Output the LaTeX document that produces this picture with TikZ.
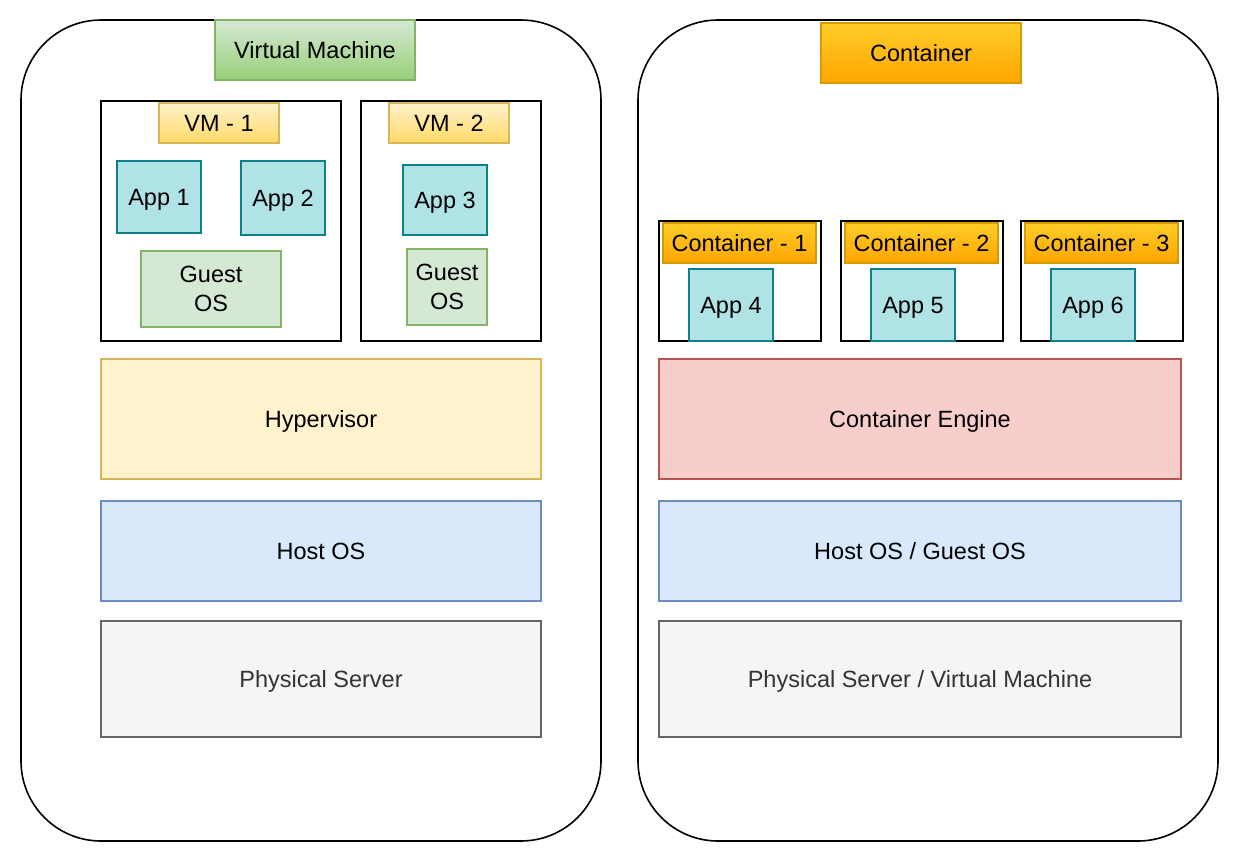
\documentclass[tikz,border=0pt]{standalone}
\usepackage{fontspec}
\setmainfont{Liberation Sans}
\begin{document}
\definecolor{greenFill}{HTML}{D5E8D4}
\definecolor{greenDark}{HTML}{97D077}
\definecolor{greenLine}{HTML}{82B366}
\definecolor{orangeTop}{HTML}{FFCD28}
\definecolor{orangeBot}{HTML}{FFA500}
\definecolor{orangeLine}{HTML}{D79B00}
\definecolor{yellowFill}{HTML}{FFF2CC}
\definecolor{yellowDark}{HTML}{FFD966}
\definecolor{yellowLine}{HTML}{D6B656}
\definecolor{tealFill}{HTML}{B0E3E6}
\definecolor{tealLine}{HTML}{0E8088}
\definecolor{blueFill}{HTML}{DAE8FC}
\definecolor{blueLine}{HTML}{6C8EBF}
\definecolor{redFill}{HTML}{F8CECC}
\definecolor{redLine}{HTML}{B85450}
\definecolor{greyFill}{HTML}{F5F5F5}
\definecolor{greyLine}{HTML}{666666}
\definecolor{greyText}{HTML}{333333}
\begin{tikzpicture}[x=1pt,y=-1pt,
  every node/.style={font=\fontsize{23.5}{29}\selectfont, inner sep=0pt, align=center, rectangle,
    text height=21.3pt, text depth=5pt},
  sz/.style 2 args={minimum width=#1pt, minimum height=#2pt},
  outer/.style={draw=black, line width=1.6pt, rounded corners=80pt, fill=white},
  frame/.style={draw=black, line width=1.6pt, fill=white},
  vmtitle/.style={draw=greenLine, line width=1.2pt, top color=greenFill, bottom color=greenDark},
  cttitle/.style={draw=orangeLine, line width=1.2pt, top color=orangeTop, bottom color=orangeBot},
  vmlabel/.style={draw=yellowLine, line width=1.2pt, top color=yellowFill, bottom color=yellowDark},
  app/.style={draw=tealLine, line width=1.2pt, fill=tealFill},
  guest/.style={draw=greenLine, line width=1.2pt, fill=greenFill, text height=, text depth=},
  hyper/.style={draw=yellowLine, line width=1.2pt, fill=yellowFill},
  engine/.style={draw=redLine, line width=1.2pt, fill=redFill},
  hostos/.style={draw=blueLine, line width=1.2pt, fill=blueFill},
  server/.style={draw=greyLine, line width=1.2pt, fill=greyFill, text=greyText}]
\useasboundingbox (0,0) rectangle (1240,862);

% outer panels
\node[outer, sz={580}{821}] (vmpanel) at (311,430.5) {};
\node[outer, sz={580}{821}] (ctpanel) at (928,430.5) {};

% panel titles
\node[vmtitle, sz={200}{60}] (vmhead) at (315,50) {Virtual Machine};
\node[cttitle, sz={200}{60}] (cthead) at (921,53) {Container};

% virtual machine stack
\node[frame, sz={240}{240}] (vm1) at (221,221) {};
\node[vmlabel, sz={120}{40}] (vm1label) at (219,123) {VM - 1};
\node[app, sz={84}{72}] (app1) at (159,197) {App 1};
\node[app, sz={84}{74}] (app2) at (283,198) {App 2};
\node[guest, sz={140}{76}] (guest1) at (211,289) {Guest\\OS};

\node[frame, sz={180}{240}] (vm2) at (451,221) {};
\node[vmlabel, sz={120}{40}] (vm2label) at (449,123) {VM - 2};
\node[app, sz={84}{70}] (app3) at (445,200) {App 3};
\node[guest, sz={80}{76}] (guest2) at (447,287) {Guest\\OS};

\node[hyper, sz={440}{120}] (hypervisor) at (321,419) {Hypervisor};
\node[hostos, sz={440}{100}] (hostL) at (321,551) {Host OS};
\node[server, sz={440}{116}] (serverL) at (321,679) {Physical Server};

% container stack
\node[frame, sz={162}{120}] (c1) at (740,281) {};
\node[cttitle, sz={153}{40}] (c1label) at (739.5,243) {Container - 1};
\node[app, sz={84}{72}] (app4) at (731,305) {App 4};

\node[frame, sz={162}{120}] (c2) at (922,281) {};
\node[cttitle, sz={153}{40}] (c2label) at (921.5,243) {Container - 2};
\node[app, sz={84}{72}] (app5) at (913,305) {App 5};

\node[frame, sz={162}{120}] (c3) at (1102,281) {};
\node[cttitle, sz={153}{40}] (c3label) at (1101.5,243) {Container - 3};
\node[app, sz={84}{72}] (app6) at (1093,305) {App 6};

\node[engine, sz={522}{120}] (engine) at (920,419) {Container Engine};
\node[hostos, sz={522}{100}] (hostR) at (920,551) {Host OS / Guest OS};
\node[server, sz={522}{116}] (serverR) at (920,679) {Physical Server / Virtual Machine};
\end{tikzpicture}
\end{document}
